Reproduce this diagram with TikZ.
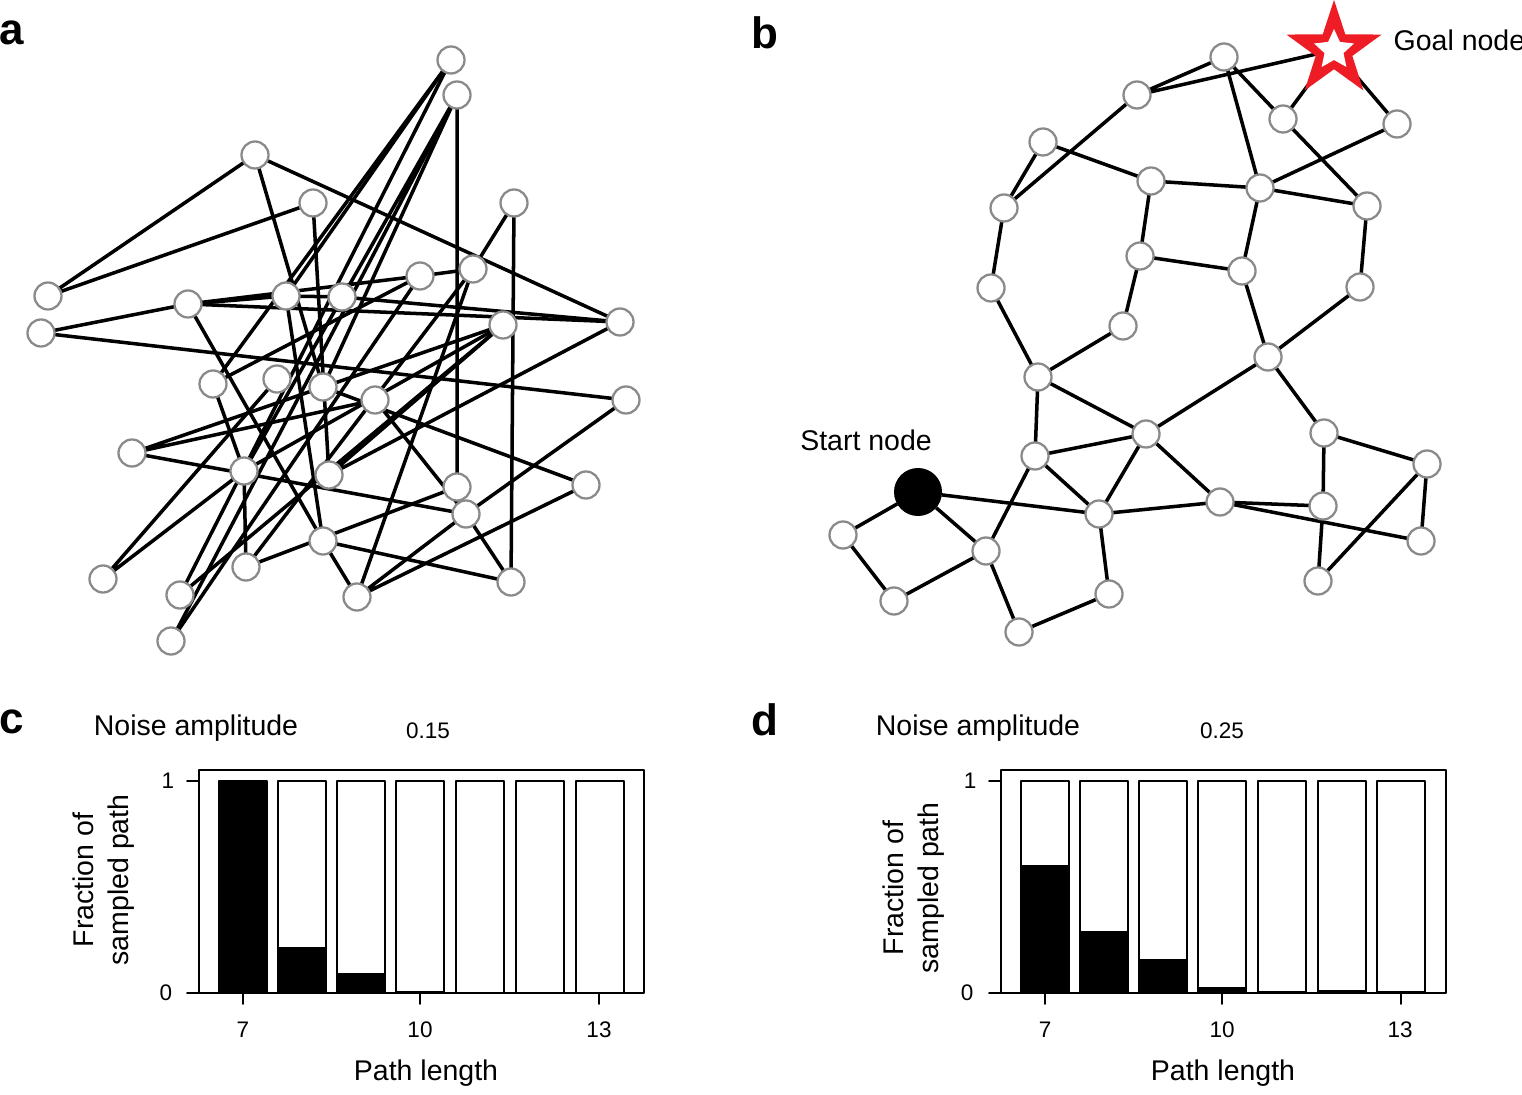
\documentclass[tikz,border=0pt]{standalone}
\usepackage{fontspec}
\setmainfont{Liberation Sans}
\usetikzlibrary{shapes.geometric,backgrounds}
\definecolor{ringgrey}{HTML}{8A8A8A}
\definecolor{goalred}{HTML}{EE1C24}
\tikzset{
    every picture/.style={line cap=round,line join=round},
    gnode/.style={circle,draw=ringgrey,fill=white,line width=0.65pt,
      minimum size=2.7mm,inner sep=0pt,outer sep=0pt},
    startnode/.style={circle,fill=black,minimum size=4.8mm,inner sep=0pt,outer sep=0pt},
    goalstar/.style={star,star points=5,star point ratio=2.6,fill=goalred,
      minimum size=10mm,inner sep=0pt,outer sep=0pt},
    goalcore/.style={star,star points=5,star point ratio=2.1,fill=white,
      minimum size=4.2mm,inner sep=0pt},
    link/.style={draw=black,line width=1pt},
    panellabel/.style={font=\fontsize{12.5}{14}\selectfont\bfseries},
    lbl/.style={font=\fontsize{8.1}{10}\selectfont},
    num/.style={font=\fontsize{6.4}{8}\selectfont},
    barbox/.style={draw=black,line width=0.45pt,fill=white},
    axisline/.style={draw=black,line width=0.45pt}
}

\begin{document}
\begin{tikzpicture}[x=0.01cm,y=-0.01cm]
    \useasboundingbox (0,0) rectangle (1522,1095);

    % panel labels
    \node[panellabel] (la) at (12,33) {a};
    \node[panellabel] (lb) at (765,33) {b};
    \node[panellabel] (lc) at (12,722) {c};
    \node[panellabel] (ld) at (765,720) {d};

    % a: random layout
    \node[gnode] (a1) at (451,60) {};
    \node[gnode] (a2) at (457,95) {};
    \node[gnode] (a3) at (255,155) {};
    \node[gnode] (a4) at (313,203) {};
    \node[gnode] (a5) at (514,203) {};
    \node[gnode] (a6) at (48,296) {};
    \node[gnode] (a7) at (188,304) {};
    \node[gnode] (a8) at (286,296) {};
    \node[gnode] (a9) at (342,297) {};
    \node[gnode] (a10) at (420,276) {};
    \node[gnode] (a11) at (473,269) {};
    \node[gnode] (a12) at (41,333) {};
    \node[gnode] (a13) at (503,325) {};
    \node[gnode] (a14) at (620,322) {};
    \node[gnode] (a15) at (213,384) {};
    \node[gnode] (a16) at (277,379) {};
    \node[gnode] (a17) at (323,387) {};
    \node[gnode] (a18) at (375,400) {};
    \node[gnode] (a19) at (626,400) {};
    \node[gnode] (a20) at (132,453) {};
    \node[gnode] (a21) at (244,471) {};
    \node[gnode] (a22) at (329,475) {};
    \node[gnode] (a23) at (457,487) {};
    \node[gnode] (a24) at (586,485) {};
    \node[gnode] (a25) at (466,514) {};
    \node[gnode] (a26) at (323,541) {};
    \node[gnode] (a27) at (103,579) {};
    \node[gnode] (a28) at (246,567) {};
    \node[gnode] (a29) at (180,595) {};
    \node[gnode] (a30) at (357,597) {};
    \node[gnode] (a31) at (511,582) {};
    \node[gnode] (a32) at (171,641) {};

    \begin{scope}[on background layer]
    \draw[link] (a3)--(a6) (a4)--(a6) (a3)--(a14) (a3)--(a17);
    \draw[link] (a4)--(a22) (a12)--(a7) (a12)--(a19) (a7)--(a8);
    \draw[link] (a7)--(a14) (a7)--(a26) (a2)--(a23) (a5)--(a31);
    \draw[link] (a5)--(a11) (a14)--(a22) (a13)--(a22) (a28)--(a23);
    \draw[link] (a26)--(a30) (a26)--(a31) (a8)--(a26) (a30)--(a11);
    \draw[link] (a19)--(a25) (a25)--(a30) (a30)--(a24) (a21)--(a28);
    \draw[link] (a20)--(a25) (a1)--(a15) (a20)--(a13) (a20)--(a18);
    \draw[link] (a27)--(a16) (a27)--(a21) (a29)--(a13) (a32)--(a10);
    \draw[link] (a15)--(a21) (a18)--(a25) (a25)--(a31) (a17)--(a24);
    \draw[link] (a13)--(a21) (a1)--(a8) (a2)--(a21) (a2)--(a32);
    \draw[link] (a1)--(a29) (a2)--(a17) (a7)--(a10) (a9)--(a14);
    \draw[link] (a8)--(a9) (a10)--(a11) (a28)--(a11) (a15)--(a10);
    \end{scope}

    % b: spatial layout
    \node[gnode] (b1) at (1224,57) {};
    \node[gnode] (b2) at (1137,95) {};
    \node[gnode] (b3) at (1283,119) {};
    \node[gnode] (b4) at (1397,124) {};
    \node[gnode] (b5) at (1043,142) {};
    \node[gnode] (b6) at (1151,181) {};
    \node[gnode] (b7) at (1260,188) {};
    \node[gnode] (b8) at (1367,206) {};
    \node[gnode] (b9) at (1004,208) {};
    \node[gnode] (b10) at (1140,256) {};
    \node[gnode] (b11) at (1242,271) {};
    \node[gnode] (b12) at (991,288) {};
    \node[gnode] (b13) at (1360,287) {};
    \node[gnode] (b14) at (1123,326) {};
    \node[gnode] (b15) at (1268,357) {};
    \node[gnode] (b16) at (1038,377) {};
    \node[gnode] (b17) at (1324,433) {};
    \node[gnode] (b18) at (1146,434) {};
    \node[gnode] (b19) at (1035,456) {};
    \node[gnode] (b20) at (1427,464) {};
    \node[gnode] (b21) at (1099,514) {};
    \node[gnode] (b22) at (1220,502) {};
    \node[gnode] (b23) at (1323,506) {};
    \node[gnode] (b24) at (843,535) {};
    \node[gnode] (b25) at (1421,541) {};
    \node[gnode] (b26) at (986,551) {};
    \node[gnode] (b27) at (1318,581) {};
    \node[gnode] (b28) at (1109,594) {};
    \node[gnode] (b29) at (894,601) {};
    \node[gnode] (b30) at (1019,632) {};
    \node[startnode] (start) at (918,492) {};
    \node[goalstar] (goal) at (1334,50) {};
    \node[goalcore] (goalin) at (1334,50) {};

    \begin{scope}[on background layer]
    \draw[link] (b2)--(b1) (b2)--(goal.center) (b1)--(b7) (b1)--(b3);
    \draw[link] (goal.center)--(b3) (goal.center)--(b4) (b3)--(b8) (b4)--(b7);
    \draw[link] (b6)--(b7) (b7)--(b8) (b6)--(b10) (b7)--(b11);
    \draw[link] (b10)--(b11) (b10)--(b14) (b8)--(b13) (b11)--(b15);
    \draw[link] (b13)--(b15) (b15)--(b18) (b15)--(b17) (b14)--(b16);
    \draw[link] (b5)--(b9) (b9)--(b2) (b5)--(b6) (b9)--(b12);
    \draw[link] (b12)--(b16) (b16)--(b18) (b16)--(b19) (b19)--(b18);
    \draw[link] (b19)--(b21) (b18)--(b21) (start)--(b21) (start)--(b24);
    \draw[link] (start)--(b26) (b24)--(b29) (b29)--(b26) (b26)--(b19);
    \draw[link] (b26)--(b30) (b30)--(b28) (b21)--(b28) (b21)--(b22);
    \draw[link] (b18)--(b22) (b17)--(b20) (b17)--(b23) (b22)--(b23);
    \draw[link] (b22)--(b25) (b23)--(b27) (b27)--(b20) (b20)--(b25);
    \end{scope}

    \node[lbl,anchor=west,inner sep=0pt] (goaltxt) at (1393,40) {Goal node};
    \node[lbl] (starttxt) at (866,440) {Start node};

    % c: noise 0.15
    \node[lbl] (noisec) at (196,728) {Noise amplitude};
    \node[num] (ampc) at (428,731) {0.15};
    \draw[axisline] (199,770) rectangle (644,993);
    \foreach \cx/\fr in {243/1,302/0.217,361/0.094,420/0.01,480/0.004,540/0.004,600/0.004}{
      \draw[barbox] (\cx-24,781) rectangle (\cx+24,993);
      \fill[black] (\cx-24,993) rectangle (\cx+24,993-212*\fr);
    }
    \draw[axisline] (187,781)--(199,781) (187,993)--(199,993);
    \draw[axisline] (243,993)--(243,1004) (420,993)--(420,1004) (599,993)--(599,1004);
    \node[num] (c1) at (168,781) {1};
    \node[num] (c0) at (166,993) {0};
    \node[num] (c7) at (243,1030) {7};
    \node[num] (c10) at (420,1030) {10};
    \node[num] (c13) at (599,1030) {13};
    \node[lbl,rotate=90,align=center] (ylabc) at (104,880) {Fraction of\\sampled path};
    \node[lbl] (xlabc) at (426,1073) {Path length};

    % d: noise 0.25
    \node[lbl] (noised) at (978,728) {Noise amplitude};
    \node[num] (ampd) at (1222,731) {0.25};
    \draw[axisline] (1001,770) rectangle (1446,993);
    \foreach \cx/\fr in {1045/0.604,1104/0.292,1163/0.16,1222/0.028,1282/0.01,1342/0.012,1401/0.008}{
      \draw[barbox] (\cx-24,781) rectangle (\cx+24,993);
      \fill[black] (\cx-24,993) rectangle (\cx+24,993-212*\fr);
    }
    \draw[axisline] (989,781)--(1001,781) (989,993)--(1001,993);
    \draw[axisline] (1045,993)--(1045,1004) (1222,993)--(1222,1004) (1401,993)--(1401,1004);
    \node[num] (d1) at (970,781) {1};
    \node[num] (d0) at (967,993) {0};
    \node[num] (d7) at (1045,1030) {7};
    \node[num] (d10) at (1222,1030) {10};
    \node[num] (d13) at (1400,1030) {13};
    \node[lbl,rotate=90,align=center] (ylabd) at (914,888) {Fraction of\\sampled path};
    \node[lbl] (xlabd) at (1223,1073) {Path length};
\end{tikzpicture}
\end{document}
